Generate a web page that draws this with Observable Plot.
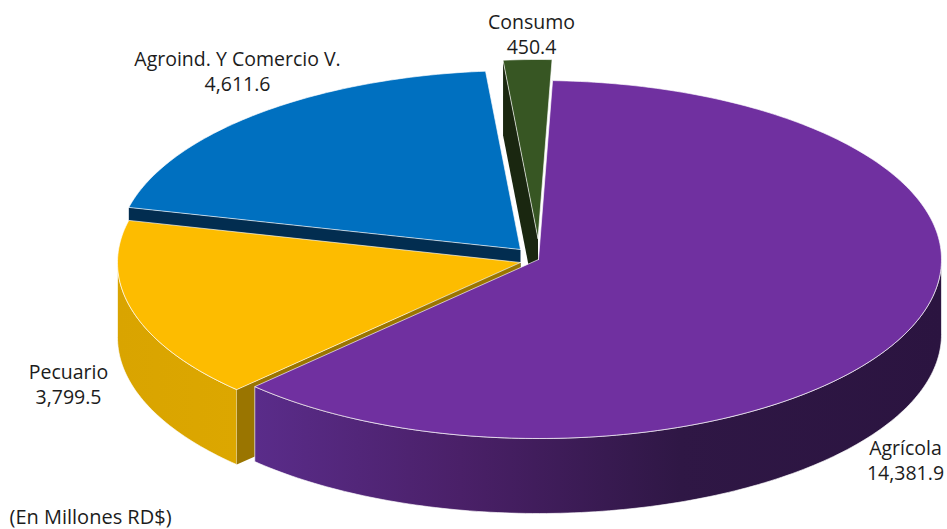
<!DOCTYPE html>
<html>
<head>
<meta charset="utf-8">
<script src="https://cdn.jsdelivr.net/npm/d3@7"></script>
<script src="https://cdn.jsdelivr.net/npm/@observablehq/plot@0.6"></script>
<style>html,body{margin:0;padding:0;background:#fff}svg{display:block}</style>
</head>
<body>
<div id="chart"></div>
<script>
// Data
const categories = ["Agrícola", "Pecuario", "Agroind. Y Comercio V.", "Consumo"];
const values = [14381.9, 3799.5, 4611.6, 450.4];
const note = "(En Millones RD$)";

// Layout and style
const startDeg = 2;
const rx = 403, ry = 179, depth = 75;
const centersX = [538, 520, 520, 537.5];
const centersY = [259, 262, 249, 238];
const topColors = ["#7030a0", "#fdbc00", "#0070c0", "#375623"];
const cutColors = ["#4a2070", "#9a7500", "#022d50", "#1a2710"];
const labelX = [905, 68, 237, 531];
const labelY = [459, 383, 70, 33];
const drawOrder = [3, 2, 1, 0];
const edge = "rgba(255,255,255,0.65)";

const total = d3.sum(values);
let acc = startDeg;
const spans = values.map(v => { const a0 = acc; acc += v / total * 360; return [a0, acc]; });

const rim = (i, deg, drop = 0) => {
  const t = deg * Math.PI / 180;
  return {x: centersX[i] + rx * Math.sin(t), y: centersY[i] - ry * Math.cos(t) + drop};
};
const tip = (i, drop = 0) => ({x: centersX[i], y: centersY[i] + drop});
const arc = (i, a0, a1, drop = 0) => {
  const n = Math.max(2, Math.ceil(Math.abs(a1 - a0)));
  return d3.range(n + 1).map(k => rim(i, a0 + (a1 - a0) * k / n, drop));
};
const closed = pts => [...pts, pts[0]];
const face = (pts, fill, stroke = edge) =>
  Plot.line(closed(pts), {x: "x", y: "y", fill, stroke, strokeWidth: 1, curve: "linear"});
const cutFace = (i, deg, fill) =>
  face([tip(i), rim(i, deg), rim(i, deg, depth), tip(i, depth)], fill, "none");
const wall = (i, a0, a1, fill) =>
  face([...arc(i, a0, a1), ...arc(i, a1, a0, depth)], fill);

const sideFaces = {
  0: i => [wall(i, 90, spans[i][1], "url(#wallPurple)")],
  1: i => [wall(i, spans[i][0], 270, "url(#wallGold)"), cutFace(i, spans[i][0], cutColors[i])],
  2: i => [cutFace(i, spans[i][0], cutColors[i])],
  3: i => [cutFace(i, spans[i][0], cutColors[i])]
};
const marks = [
  () => {
    const defs = d3.create("svg:defs");
    const grad = (id, stops) => {
      const g = defs.append("linearGradient").attr("id", id).attr("x1", 0).attr("x2", 1).attr("y1", 0).attr("y2", 0);
      stops.forEach(([o, c]) => g.append("stop").attr("offset", o).attr("stop-color", c));
    };
    grad("wallPurple", [[0, "#5a2c8a"], [0.3, "#4a2068"], [0.62, "#2f1745"], [1, "#2b1440"]]);
    grad("wallGold", [[0, "#d9a400"], [1, "#dca700"]]);
    return defs.node();
  }
];
for (const i of drawOrder) {
  marks.push(...sideFaces[i](i));
  marks.push(face([tip(i), ...arc(i, spans[i][0], spans[i][1])], topColors[i]));
}
const labels = categories.map((c, i) => ({
  text: `${c}\n${d3.format(",.1f")(values[i])}`, x: labelX[i], y: labelY[i]
}));
marks.push(Plot.text(labels, {
  x: "x", y: "y", text: "text", fontSize: 19.5, lineHeight: 1.25, fill: "#1c1c1c"
}));
marks.push(Plot.text([note], {
  x: () => 9, y: () => 517, text: d => d, textAnchor: "start", fontSize: 20, fill: "#1c1c1c"
}));

const chart = Plot.plot({
  width: 947, height: 529,
  marginTop: 0, marginRight: 0, marginBottom: 0, marginLeft: 0,
  style: {fontFamily: "'Open Sans', sans-serif", background: "#fff", overflow: "hidden"},
  x: {domain: [0, 947], range: [0, 947], axis: null},
  y: {domain: [0, 529], range: [0, 529], axis: null},
  marks
});
document.getElementById("chart").append(chart);
</script>
</body>
</html>
